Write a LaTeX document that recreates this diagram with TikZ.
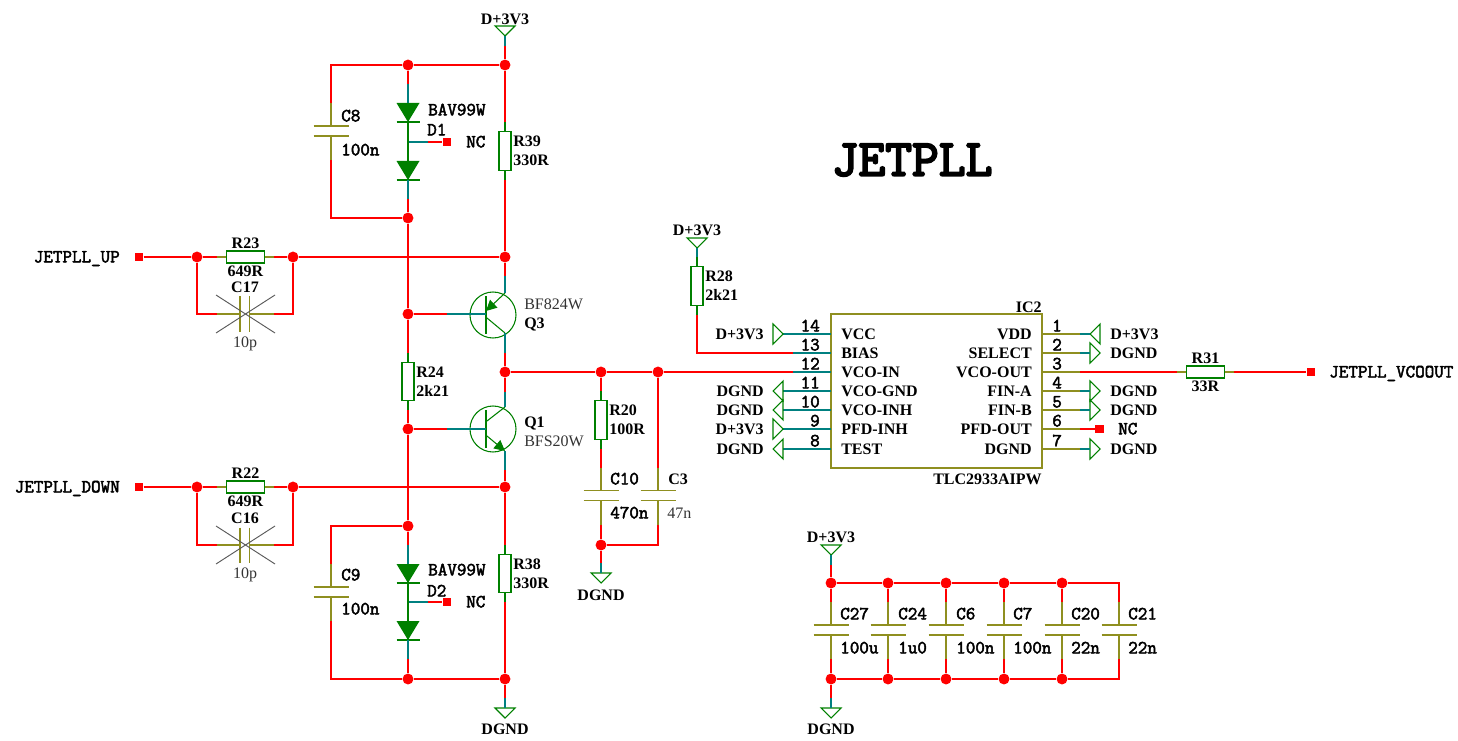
\documentclass[tikz,border=0pt]{standalone}
\usepackage{fontspec}
\setmainfont{Liberation Serif}
\newfontfamily\monolab[FakeBold=2.6]{Latin Modern Mono}
\newfontfamily\monotitle[FakeBold=4]{Latin Modern Mono}
\usetikzlibrary{
  arrows.meta,
  backgrounds,
  calc
}
\definecolor{wirecolor}{HTML}{FF0000}
\definecolor{symcolor}{HTML}{008000}
\definecolor{pincolor}{HTML}{008080}
\definecolor{capcolor}{HTML}{8F8F20}

\begin{document}
\begin{tikzpicture}[
  x=0.75pt, y=-0.75pt,
  wire/.style={draw=wirecolor, line width=1.3pt},
  stubt/.style={draw=pincolor, line width=0.9pt},
  stubg/.style={draw=symcolor, line width=0.9pt},
  stubo/.style={draw=capcolor, line width=0.9pt},
  sym/.style={draw=symcolor, line width=0.8pt},
  plate/.style={draw=capcolor, line width=1.1pt},
  dot/.style={circle, fill=wirecolor, inner sep=0pt, minimum size=8.2pt},
  port/.style={rectangle, fill=wirecolor, inner sep=0pt, minimum size=6.6pt},
  resv/.style={draw=symcolor, line width=0.9pt, fill=white, inner sep=0pt,
               minimum width=9pt, minimum height=29pt},
  resh/.style={draw=symcolor, line width=0.9pt, fill=white, inner sep=0pt,
               minimum width=29pt, minimum height=9pt},
  tlab/.style={inner sep=0pt, text height=8pt, text depth=0pt},
  ser/.style={tlab, font=\fontsize{12}{14}\selectfont\bfseries},
  thin lab/.style={tlab, font=\fontsize{12}{14}\selectfont, text=black!80},
  mon/.style={tlab, font=\fontsize{13.9}{16}\selectfont\monolab},
]

  \useasboundingbox (0,0) rectangle (1458,741);

  % Title
  \node[font=\fontsize{39}{42}\selectfont\monotitle] (title) at (912,160) {JETPLL};

  % Junctions
  \foreach \n/\x/\y in {j1/505/65, j2/408/65, j3/408/218, j4/505/257, j5/197/257, j6/293/257,
                        j7/408/314, j8/505/372, j9/408/429, j10/505/487, j11/197/487, j12/293/487,
                        j13/408/526, j14/408/679, j15/505/679, j16/601/372, j17/658/372, j18/601/545,
                        t0/831/583, t1/888/583, t2/946/583, t3/1004/583, t4/1062/583,
                        b0/831/679, b1/888/679, b2/946/679, b3/1004/679, b4/1062/679} {
    \node[dot] (\n) at (\x,\y) {};
  }

  % Ports
  \foreach \n/\x/\y in {nc1/447/142, nc2/447/602, nc3/1099.5/429, inup/139/257, indn/139/487, vco/1311/372} {
    \node[port] (\n) at (\x,\y) {};
  }
  \node[mon, anchor=east] (inupl) at (120,257) {JETPLL\_UP};
  \node[mon, anchor=east] (indnl) at (120,487) {JETPLL\_DOWN};
  \node[mon, anchor=west] (vcol) at (1329,372) {JETPLL\_VCOOUT};
  \node[mon, anchor=west] (nc1l) at (466,142) {NC};
  \node[mon, anchor=west] (nc2l) at (466,602) {NC};
  \node[mon, anchor=west] (nc3l) at (1118,429) {NC};

  % Resistors
  \foreach \n/\x/\y/\a/\b in {r39/505/151/R39/330R, r24/408/381.5/R24/2k21, r38/505/573.5/R38/330R,
                              r20/601/420/R20/100R, r28/697/286/R28/2k21} {
    \node[resv] (\n) at (\x,\y) {};
    \draw[stubg] (\n.north) -- ++(0,-9);
    \draw[stubg] (\n.south) -- ++(0,9);
    \node[ser, anchor=west] (\n a) at ({\x+8},{\y-9.5}) {\a};
    \node[ser, anchor=west] (\n b) at ({\x+8},{\y+9.5}) {\b};
  }
  \foreach \n/\x/\y/\a/\b in {r23/245.5/257/R23/649R, r22/245.5/487/R22/649R, r31/1205.5/372/R31/33R} {
    \node[resh] (\n) at (\x,\y) {};
    \draw[stubo] (\n.west) -- ++(-9,0);
    \draw[stubo] (\n.east) -- ++(9,0);
    \node[ser] (\n a) at (\x,{\y-14}) {\a};
    \node[ser] (\n b) at (\x,{\y+14}) {\b};
  }

  % Capacitors
  \foreach \n/\x/\y in {c8/331/131, c9/331/592, c10/601/495.5, c3/658/495.5, c27/831/630, c24/888/630,
                        c6/946/630, c7/1004/630, c20/1062/630, c21/1119/630} {
    \coordinate (\n t) at (\x,{\y-5});
    \coordinate (\n b) at (\x,{\y+5});
    \draw[plate] (\n t) ++(-17.5,0) -- ++(35,0);
    \draw[plate] (\n b) ++(-17.5,0) -- ++(35,0);
    \draw[stubo] (\n t) -- ++(0,-23);
    \draw[stubo] (\n b) -- ++(0,24);
  }
  \foreach \n/\x/\y/\a/\b in {c8/341/116/C8/100n, c9/341/575/C9/100n, c10/610/479/C10/470n,
                              c27/840/614/C27/100u, c24/898/614/C24/1u0, c6/956/614/C6/100n,
                              c7/1013/614/C7/100n, c20/1071/614/C20/22n, c21/1128/614/C21/22n} {
    \node[mon, anchor=west] (\n l) at (\x,\y) {\a};
    \node[mon, anchor=west] (\n v) at (\x,{\y+34}) {\b};
  }
  \node[ser, anchor=west] (c3l) at (668,479) {C3};
  \node[thin lab, anchor=west] (c3v) at (667,513) {47n};

  % Unfitted capacitors
  \foreach \n/\y/\a in {c17/314/C17, c16/545/C16} {
    \coordinate (\n l) at (240,\y);
    \coordinate (\n r) at (249.5,\y);
    \draw[plate] (\n l) ++(0,-17.5) -- ++(0,35);
    \draw[plate] (\n r) ++(0,-17.5) -- ++(0,35);
    \draw[stubo] (\n l) -- ++(-23,0);
    \draw[stubo] (\n r) -- ++(24.5,0);
    \draw[black!65, line width=0.7pt] (216,{\y-19}) -- (275,{\y+19});
    \draw[black!65, line width=0.7pt] (216,{\y+19}) -- (275,{\y-19});
    \node[ser] (\n a) at (245,{\y-27}) {\a};
    \node[thin lab] (\n v) at (245,{\y+28}) {10p};
  }

  % Diodes
  \foreach \n/\y in {d1a/103, d1b/161, d2a/564, d2b/621} {
    \coordinate (\n) at (408,\y);
    \coordinate (\n e) at (408,{\y+19});
    \fill[symcolor] (\n) ++(-11.5,0) -- ++(23,0) -- ++(-11.5,19) -- cycle;
    \draw[stubg] (\n e) ++(-11.5,0) -- ++(23,0);
  }
  \foreach \n/\y in {d1/142, d2/602} {
    \coordinate (\n t) at (428,\y);
    \draw[stubt] (\n t) -- ++(-20,0);
  }
  \draw[stubt] (d1a) -- ++(0,-19);
  \draw[stubg] (d1ae) -- (d1b);
  \draw[stubt] (d1be) -- ++(0,19);
  \draw[stubt] (d2a) -- ++(0,-19);
  \draw[stubg] (d2ae) -- (d2b);
  \draw[stubt] (d2be) -- ++(0,19);
  \node[mon, anchor=west] (d1v) at (428,110) {BAV99W};
  \node[mon, anchor=west] (d1l) at (427,130) {D1};
  \node[mon, anchor=west] (d2v) at (428,570) {BAV99W};
  \node[mon, anchor=west] (d2l) at (427,591) {D2};

  % Transistors
  \node[circle, sym, inner sep=0pt, minimum size=34.5pt] (q3) at (493,315) {};
  \node[circle, sym, inner sep=0pt, minimum size=34.5pt] (q1) at (493,429) {};
  \draw[symcolor, line width=2.2pt] (486,296) -- (486,334);
  \draw[symcolor, line width=2.2pt] (486,410) -- (486,448);
  \coordinate (q3e) at (505,293);
  \coordinate (q3c) at (505,333);
  \coordinate (q1c) at (505,407);
  \coordinate (q1e) at (505,451);
  \draw[sym, -{Stealth[length=8pt, width=8pt, inset=0pt]}, symcolor] (q3e) -- (486,311);
  \draw[sym] (487,318) -- (q3c);
  \draw[sym] (487,421) -- (q1c);
  \draw[sym, -{Stealth[length=8pt, width=8pt, inset=0pt]}, symcolor] (487,436) -- (q1e);
  \draw[stubt] (q3e) -- ++(0,-17);
  \draw[stubt] (q3c) -- ++(0,20);
  \draw[stubt] (q1c) -- ++(0,-15);
  \draw[stubt] (q1e) -- ++(0,19);
  \coordinate (q3b) at (447,314);
  \coordinate (q1b) at (447,429);
  \draw[stubt] (q3b) -- (486,314);
  \draw[stubt] (q1b) -- (486,429);
  \node[thin lab, anchor=west] (q3v) at (524,304) {BF824W};
  \node[ser, anchor=west] (q3l) at (524,323) {Q3};
  \node[ser, anchor=west] (q1l) at (524,422) {Q1};
  \node[thin lab, anchor=west] (q1v) at (524,441) {BFS20W};

  % Supply symbols
  \foreach \n/\x/\y/\a/\ty in {pw1/505/36/D+3V3/19, pw2/697/248/D+3V3/230, pw3/831/555/D+3V3/537,
                               gn1/505/718/DGND/729, gn2/601/583/DGND/595, gn3/831/718/DGND/729} {
    \coordinate (\n) at (\x,{\y-10});
    \coordinate (\n p) at (\x,\y);
    \draw[sym] (\n) ++(-10,0) -- ++(20,0) -- ++(-10,10) -- cycle;
    \node[ser] (\n l) at (\x,\ty) {\a};
  }
  \draw[stubt] (pw1p) -- ++(0,10);
  \draw[stubt] (pw2p) -- ++(0,9);
  \draw[stubt] (pw3p) -- ++(0,10);
  \draw[stubt] (gn1) -- ++(0,-10);
  \draw[stubt] (gn2) -- ++(0,-10);
  \draw[stubt] (gn3) -- ++(0,-10);

  % IC2
  \node[draw=capcolor, line width=1.1pt, minimum width=158.25pt, minimum height=115.5pt,
        inner sep=0pt] (ic2) at (936.5,391) {};
  \node[ser, anchor=east] (ic2n) at (1042,307) {IC2};
  \node[ser, anchor=east] (ic2v) at (1042,479) {TLC2933AIPW};
  \foreach \n/\y/\a/\l in {14/334/14/48, 13/353/13/38, 12/372/12/38, 11/391/11/48, 10/410/10/48, 9/429/9/48, 8/449/8/48} {
    \coordinate (pin\n) at (831,\y);
    \coordinate (pin\n e) at ({831-\l},\y);
    \draw[stubt] (pin\n) -- (pin\n e);
    \node[mon, anchor=east] (pin\n l) at (820,{\y-8}) {\a};
  }
  \foreach \n/\y/\a in {1/334/1, 2/353/2, 3/372/3, 4/391/4, 5/410/5, 6/429/6, 7/449/7} {
    \coordinate (pin\n) at (1042,\y);
    \coordinate (pin\n e) at (1080,\y);
    \draw[stubo] (pin\n) -- (pin\n e);
    \node[mon, anchor=west] (pin\n l) at (1052,{\y-8}) {\a};
  }
  \foreach \n/\y/\a in {a/334/VCC, b/353/BIAS, c/372/VCO-IN, d/391/VCO-GND, e/410/VCO-INH, f/429/PFD-INH, g/449/TEST} {
    \node[ser, anchor=west] (ipl\n) at (841,\y) {\a};
  }
  \foreach \n/\y/\a in {a/334/VDD, b/353/SELECT, c/372/VCO-OUT, d/391/FIN-A, e/410/FIN-B, f/429/PFD-OUT, g/449/DGND} {
    \node[ser, anchor=east] (ipr\n) at (1032,\y) {\a};
  }

  % IC2 supply symbols
  \foreach \n/\x/\y/\d/\a in {sa/773/334/10/D+3V3, sd/783/391/-10/DGND, se/783/410/-10/DGND,
                              sf/773/429/10/D+3V3, sg/783/449/-10/DGND} {
    \draw[sym] (\x,{\y-10}) -- (\x,{\y+10}) -- ({\x+\d},\y) -- cycle;
    \node[ser, anchor=east] (\n l) at (764,\y) {\a};
  }
  \foreach \n/\x/\y/\d/\a in {ra/1100/334/-10/D+3V3, rb/1090/353/10/DGND, rd/1090/391/10/DGND,
                              re/1090/410/10/DGND, rg/1090/449/10/DGND} {
    \draw[sym] (\x,{\y-10}) -- (\x,{\y+10}) -- ({\x+\d},\y) -- cycle;
    \draw[stubt] (1080,\y) -- (1090,\y);
    \node[ser, anchor=west] (\n l) at (1110,\y) {\a};
  }

  % Nets
  \begin{scope}[on background layer]
    \draw[wire] (pw1p) -- (j1);
    \draw[wire] (j1) -- (j2) -| (c8t);
    \draw[wire] (c8b) |- (j3);
    \draw[wire] (j2) -- (d1a);
    \draw[wire] (d1be) -- (j3);
    \draw[wire] (j1) -- (r39.north);
    \draw[wire] (r39.south) -- (j4);
    \draw[wire] (j3) -- (j7);
    \draw[wire] (j7) -- (r24.north);
    \draw[wire] (r24.south) -- (j9);
    \draw[wire] (j9) -- (j13);
    \draw[wire] (d1t) -- (nc1);
    \draw[wire] (d2t) -- (nc2);

    \draw[wire] (inup) -- (j5);
    \draw[wire] (j5) -- (r23.west);
    \draw[wire] (r23.east) -- (j6);
    \draw[wire] (j6) -- (j4);
    \draw[wire] (j5) |- (c17l);
    \draw[wire] (j6) |- (c17r);
    \draw[wire] (indn) -- (j11);
    \draw[wire] (j11) -- (r22.west);
    \draw[wire] (r22.east) -- (j12);
    \draw[wire] (j12) -- (j10);
    \draw[wire] (j11) |- (c16l);
    \draw[wire] (j12) |- (c16r);

    \draw[wire] (j4) -- (q3e);
    \draw[wire] (q3c) -- (j8);
    \draw[wire] (j8) -- (q1c);
    \draw[wire] (q1e) -- (j10);
    \draw[wire] (j7) -- (q3b);
    \draw[wire] (j9) -- (q1b);

    \draw[wire] (j10) -- (r38.north);
    \draw[wire] (r38.south) -- (j15);
    \draw[wire] (j15) -- (j14) -| (c9b);
    \draw[wire] (j13) -| (c9t);
    \draw[wire] (j13) -- (d2a);
    \draw[wire] (d2be) -- (j14);
    \draw[wire] (j15) -- (gn1);

    \draw[wire] (j8) -- (j16);
    \draw[wire] (j16) -- (j17);
    \draw[wire] (j17) -- (pin12e);
    \draw[wire] (j16) -- (r20.north);
    \draw[wire] (r20.south) -- (c10t);
    \draw[wire] (j17) -- (c3t);
    \draw[wire] (c10b) -- (j18);
    \draw[wire] (j18) -| (c3b);
    \draw[wire] (j18) -- (gn2);
    \draw[wire] (pw2p) -- (r28.north);
    \draw[wire] (r28.south) |- (pin13e);

    \draw[wire] (pin3e) -- (r31.west);
    \draw[wire] (r31.east) -- (vco);
    \draw[wire] (pin6e) -- (nc3);

    \draw[wire] (pw3p) -- (t0);
    \draw[wire] (b0) -- (gn3);
    \draw[wire] (t0) -- (t1) -- (t2) -- (t3) -- (t4) -| (c21t);
    \draw[wire] (b0) -- (b1) -- (b2) -- (b3) -- (b4) -| (c21b);
    \draw[wire] (t0) -- (c27t);
    \draw[wire] (t1) -- (c24t);
    \draw[wire] (t2) -- (c6t);
    \draw[wire] (t3) -- (c7t);
    \draw[wire] (t4) -- (c20t);
    \draw[wire] (c27b) -- (b0);
    \draw[wire] (c24b) -- (b1);
    \draw[wire] (c6b) -- (b2);
    \draw[wire] (c7b) -- (b3);
    \draw[wire] (c20b) -- (b4);
  \end{scope}

\end{tikzpicture}
\end{document}
